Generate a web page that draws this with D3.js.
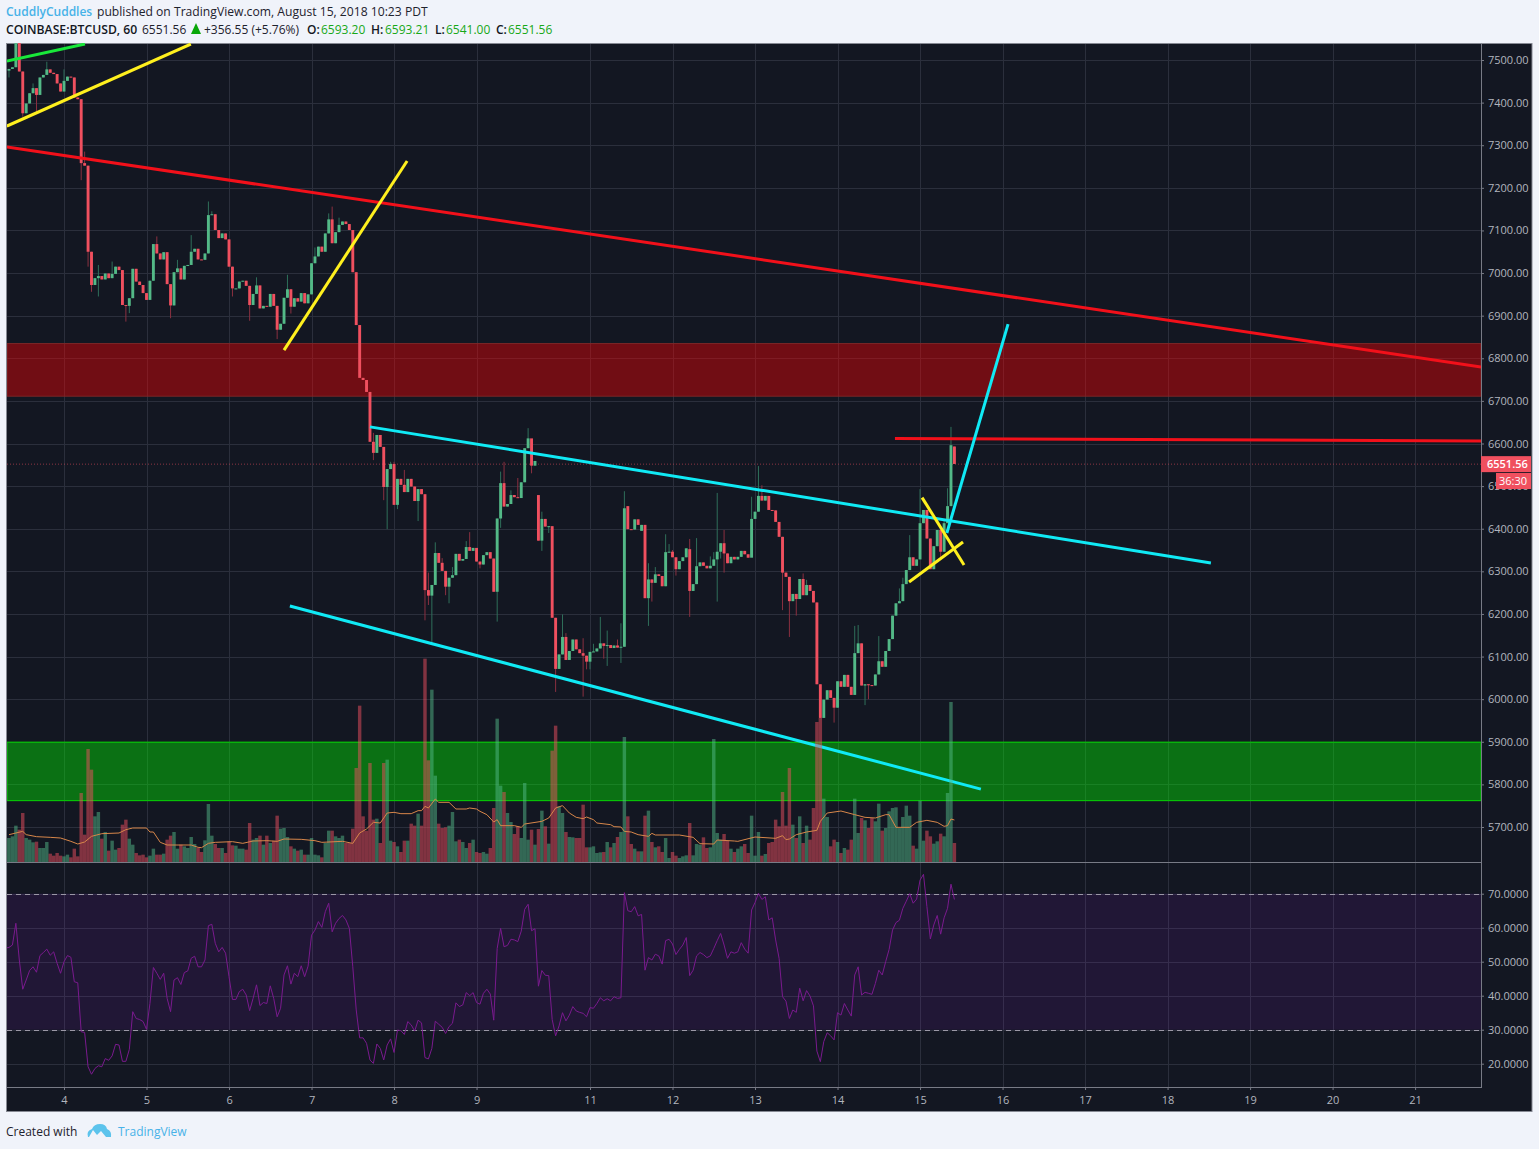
<!DOCTYPE html>
<html><head><meta charset="utf-8">
<script src="https://cdnjs.cloudflare.com/ajax/libs/d3/7.8.5/d3.min.js"></script>
<style>html,body{margin:0;padding:0;background:#f0f3fa}svg{display:block;font-family:"Open Sans",sans-serif}</style>
</head><body><div id="chart"></div>
<script>
// ---------- data ----------
const closes = [
7475,7479,7483,7560,7473,7375,7398,7422,7434,7418,
7459,7465,7478,7470,7467,7445,7426,7451,7461,7459,
7412,7408,7258,7252,7050,6972,6988,6993,6985,6999,
6988,6998,7015,7007,6925,6923,6941,7010,6980,6972,
6953,6937,6982,7068,7046,7032,7049,6974,6924,7002,
7011,6985,7017,7019,7050,7057,7032,7031,7046,7136,
7138,7101,7082,7093,7079,7015,6964,6964,6980,6982,
6970,6925,6951,6971,6917,6923,6921,6951,6923,6867,
6881,6942,6962,6921,6941,6933,6953,6929,6950,7023,
7039,7062,7050,7093,7126,7070,7096,7113,7121,7115,
7101,7002,6878,6754,6749,6721,6604,6578,6620,6592,
6498,6540,6552,6456,6517,6503,6486,6517,6499,6465,
6493,6481,6256,6243,6268,6343,6320,6301,6264,6285,
6291,6341,6325,6329,6357,6348,6355,6323,6316,6338,
6345,6330,6252,6424,6507,6452,6458,6479,6474,6472,
6509,6589,6612,6548,6559,6372,6423,6405,6406,6191,
6071,6105,6146,6092,6113,6140,6117,6108,6102,6088,
6111,6112,6119,6131,6125,6127,6120,6126,6121,6123,
6448,6399,6398,6422,6409,6409,6237,6281,6273,6293,
6289,6265,6345,6346,6333,6305,6324,6333,6354,6254,
6270,6312,6321,6313,6307,6313,6328,6346,6366,6342,
6319,6334,6328,6334,6348,6340,6332,6423,6440,6477,
6466,6477,6444,6443,6416,6381,6297,6287,6230,6247,
6235,6282,6244,6268,6254,6227,6035,5956,5999,6021,
6003,5980,6042,6029,6057,6029,6010,6108,6131,6032,
6035,6033,6032,6058,6089,6076,6113,6141,6196,6225,
6230,6270,6303,6333,6313,6328,6413,6444,6377,6305,
6359,6397,6346,6413,6453,6596,6552];
// opens equal the previous close except at these candles
const gapOpens = [[0,7470],[155,6479],[181,6453],[185,6395],[199,6352],[276,6593]];
const wickHighs = [[8,7445],[12,7496],[17,7478],[23,7285],[27,7019],[31,7027],[44,7086],[50,7031],[54,7089],[59,7168],[60,7145],[73,6990],[82,6996],[90,7060],[94,7140],[95,7156],[97,7130],[107,6625],[112,6557],[113,6557],[116,6538],[123,6297],[125,6368],[127,6331],[130,6310],[134,6371],[135,6392],[137,6345],[144,6534],[145,6557],[147,6490],[149,6519],[152,6636],[153,6590],[156,6440],[162,6199],[163,6155],[168,6143],[171,6130],[173,6193],[175,6161],[178,6140],[179,6178],[180,6488],[187,6319],[189,6310],[192,6387],[193,6364],[194,6350],[199,6376],[201,6378],[205,6335],[206,6345],[207,6484],[209,6397],[217,6475],[219,6547],[220,6502],[225,6405],[232,6295],[233,6280],[247,6172],[248,6174],[254,6148],[255,6090],[260,6260],[261,6285],[263,6385],[266,6493],[273,6420],[274,6495],[275,6639]];
const wickLows = [[1,7459],[5,7367],[9,7379],[22,7218],[24,7015],[25,6956],[27,6945],[35,6886],[36,6906],[48,6894],[66,6945],[71,6888],[79,6845],[83,6905],[107,6561],[110,6467],[111,6399],[114,6446],[120,6418],[122,6185],[123,6221],[124,6132],[128,6244],[129,6225],[138,6307],[143,6182],[144,6402],[153,6530],[156,6348],[158,6390],[160,6017],[168,6006],[169,6070],[170,6070],[174,6095],[175,6078],[179,6085],[187,6172],[188,6229],[195,6290],[199,6193],[207,6229],[208,6330],[209,6297],[217,6395],[226,6209],[228,6146],[230,6196],[241,5945],[250,5986],[251,6000],[262,6280],[272,6330]];
const volumes = [
72,72,77,109,97,147,72,67,59,61,
42,42,60,25,19,27,19,17,22,14,
40,17,207,82,339,277,137,150,70,90,
34,64,37,42,112,127,70,52,27,20,
22,14,19,40,22,22,25,67,79,90,
40,52,47,42,75,54,42,30,65,174,
79,54,42,42,27,62,50,49,40,40,
37,117,67,72,79,52,79,57,64,139,
100,102,75,47,40,34,37,22,22,72,
22,20,14,57,94,94,77,72,79,57,
57,100,282,469,137,94,297,127,130,57,
297,307,64,60,47,30,64,64,115,109,
145,109,610,305,517,259,115,102,104,109,
150,62,67,60,42,57,67,30,27,30,
25,42,162,430,229,210,147,120,84,107,
72,237,67,97,52,99,154,107,55,334,
409,167,147,90,75,74,72,72,172,44,
44,47,27,29,30,60,44,57,75,90,
375,137,54,40,32,32,139,154,60,44,
47,30,72,12,30,19,12,17,20,117,
20,54,52,74,42,44,369,87,67,84,
64,40,30,40,47,54,27,139,19,90,
19,24,57,60,127,107,210,109,282,112,
72,137,57,109,67,162,420,432,190,135,
47,67,60,27,42,37,67,190,87,132,
125,102,132,122,175,94,102,152,162,164,
102,135,169,139,49,40,184,64,94,77,
55,62,85,77,207,480,57];
const volMaIdx = [1,3,5,6,9,13,16,19,21,23,25,28,33,35,37,41,42,43,45,47,54,56,57,59,61,66,69,72,76,79,81,86,90,92,98,101,103,105,107,109,111,113,115,118,120,121,122,123,125,126,129,131,134,135,137,138,140,142,143,144,148,150,151,156,158,160,162,164,166,168,169,171,172,176,177,179,180,182,184,187,188,189,196,200,202,206,207,212,213,218,224,226,227,228,230,233,236,237,239,243,247,250,253,256,257,259,263,265,268,271,273,274,275,276];
const volMa = [82,87,92,82,76,74,72,62,54,60,77,85,87,97,102,102,90,90,59,51,51,44,43,56,59,61,56,63,64,62,69,68,64,59,62,56,87,99,119,117,147,149,145,145,154,154,167,162,189,179,179,159,159,162,159,152,142,120,127,109,109,104,114,122,132,162,169,147,134,130,135,127,117,112,106,105,92,90,82,77,86,81,81,74,55,54,66,63,62,75,71,79,67,69,82,90,95,122,147,153,142,134,132,142,142,104,104,119,125,119,107,109,129,126];
const rsi = [
54,54.2,54.9,61.3,50.5,41.9,44.6,47.4,48.5,46.9,
51.8,52.7,53.7,51.9,52.9,49.5,46.6,50,51.8,51.3,
44.1,43.8,29.4,29.2,19.1,16.9,18.6,19.4,19.1,21.5,
21,22.3,25.7,25.5,20.7,20.7,24.2,35.3,33.3,33,
32.4,30.1,37.7,48.3,46.6,44.8,46.6,39.2,35.3,44.6,
45.3,43.3,46.8,47.3,51,51.6,48.5,48.5,50.5,60.6,
61,55.4,52.9,54.2,52.5,45.6,38.9,38.9,41.2,41.9,
40.2,35.6,39.2,43.2,37.1,38,37.7,42.9,39.2,33.8,
36.3,46.1,48.8,43.4,46.6,45.6,48.8,45.6,48.7,57.8,
59.3,61.8,60.1,64.7,67.2,58.8,61.3,62.7,63.6,62.3,
59.8,48.5,35.8,27.6,27.6,26,21.1,20.1,25.8,24.5,
21.1,25.5,27.3,23.3,29.9,29.7,28.6,32.4,31.4,29.6,
32.8,32,21.8,21.4,24.5,32.5,31.6,30.7,28.9,30.9,
31.9,37.9,36.8,37.3,40.9,40,40.9,38,37.5,40.7,
41.9,40.5,32.8,53.9,59.8,54.4,54.8,56.6,56.4,55.9,
59,65.4,66.9,59.1,59.7,42.8,47.4,46,45.9,33,
28.2,31.1,35,32.6,34.3,36.8,35.5,35.1,34.8,33.8,
36.5,36.3,37.7,39.4,38.5,39.1,38.5,39.7,39.2,39.4,
70.3,65,64.7,66.2,63.5,63.9,47.5,51.2,50.5,52.2,
51.7,49.3,56.2,56.6,55.2,52.1,53.6,54.9,57.1,45.9,
47.5,51.7,52.7,52.1,51.2,51.7,53.9,56.2,58.3,54.9,
51,52.9,52.5,52.9,55.6,53.7,52.5,65.2,67.4,70.1,
68.3,69.1,62.3,62.9,56.4,51,39.7,38.4,33.3,35.8,
35.1,42.2,38.5,41.5,39.9,37,23.7,20.6,26.5,29.1,
28.2,27,35,34.3,37.7,35.8,34,46.1,48.5,40.2,
41,40.7,40.4,43.6,47.5,46.1,50,53.6,59.3,61.5,
62.2,65.7,67.8,70,67.2,68.4,74,75.7,66.2,56.7,
60.8,63.6,58.1,62.9,65.7,72.8,68.3];
const dayTickIdx = [17,41,65,89,113,137,170,194,218,242,266,290,314,338,362,386,410];
const dayTickLabels = ["4","5","6","7","8","9","11","12","13","14","15","16","17","18","19","20","21"];
const priceTicks = [5700,5800,5900,6000,6100,6200,6300,6400,6500,6600,6700,6800,6900,7000,7100,7200,7300,7400,7500];
const rsiTicks = [20,30,40,50,60,70];
// drawn trend lines: candle index and price at both ends
const trendStartIdx = [0.4,0.4,0.4,81,258.7,106,82.7,273.8,266.6,262.8];
const trendStartPrice = [7497.6,7345,7296,6819,6612,6639,6218.5,6390,6473,6275];
const trendEndIdx = [23.1,53.9,429.2,116.8,429.2,350.6,283.7,291.6,278.8,278.5];
const trendEndPrice = [7537.5,7537.5,6779.5,7263,6606,6319.5,5789,6880,6315,6369];
const trendColors = ["#19e83a","#fff01e","#f2101a","#fff01e","#f2101a","#10eaf5","#10eaf5","#10eaf5","#fff01e","#fff01e"];
const resistanceBand = [6711,6834.6];
const supportBand = [5762,5899];
const lastPrice = 6551.56;

// ---------- layout ----------
const W=1539,H=1149,L=7,R=1481,END=1532,T=43,PB=862,RB=1087,AB=1111;
const BG="#131722",UP="#53b987",DOWN="#f0505f",GRID="#2b2f3c";
const x=d3.scaleLinear().domain([17,410]).range([64,1415.1]);
const y=d3.scaleLinear().domain([5700,7500]).range([827,60]);
const yVol=d3.scaleLinear().domain([0,600]).range([PB,PB-200]);
const yRsi=d3.scaleLinear().domain([20,70]).range([1063.7,893.7]);
const pitch=x(1)-x(0);

const opens=closes.map((c,i)=>{const g=gapOpens.find(d=>d[0]===i);return g?g[1]:closes[i-1];});
const candles=closes.map((c,i)=>{
  const hi=wickHighs.find(d=>d[0]===i),lo=wickLows.find(d=>d[0]===i);
  return {i,o:opens[i],c,h:hi?hi[1]:Math.max(opens[i],c),l:lo?lo[1]:Math.min(opens[i],c),v:volumes[i],rsi:rsi[i]};
});

const svg=d3.select("#chart").append("svg").attr("width",W).attr("height",H);
const defs=svg.append("defs");
defs.append("clipPath").attr("id","main").append("rect").attr("x",L).attr("y",T).attr("width",R-L).attr("height",PB-T);
defs.append("clipPath").attr("id","low").append("rect").attr("x",L).attr("y",PB).attr("width",R-L).attr("height",RB-PB);

svg.append("rect").attr("width",W).attr("height",H).attr("fill","#f0f3fa");
svg.append("rect").attr("x",L-.5).attr("y",T+.5).attr("width",END-L+.5).attr("height",AB-T).attr("fill",BG).attr("stroke","#868993").attr("stroke-width",1);

// grid
const grid=svg.append("g").attr("stroke",GRID).attr("stroke-width",1).attr("shape-rendering","crispEdges");
grid.selectAll("line.v").data(dayTickIdx).join("line").attr("x1",d=>Math.round(x(d))+.5).attr("x2",d=>Math.round(x(d))+.5).attr("y1",T+1).attr("y2",RB);
grid.selectAll("line.p").data(priceTicks).join("line").attr("x1",L).attr("x2",R).attr("y1",d=>Math.round(y(d))+.5).attr("y2",d=>Math.round(y(d))+.5);
grid.selectAll("line.r").data(rsiTicks).join("line").attr("x1",L).attr("x2",R).attr("y1",d=>Math.round(yRsi(d))+.5).attr("y2",d=>Math.round(yRsi(d))+.5);

// price pane: zones sit under the candles, the volume study sits on top
const main=svg.append("g").attr("clip-path","url(#main)");
main.append("rect").attr("x",L).attr("width",R-L).attr("y",y(resistanceBand[1])).attr("height",y(resistanceBand[0])-y(resistanceBand[1]))
  .attr("fill","rgba(255,0,0,.4)").attr("stroke","rgba(130,40,40,.9)");
main.append("rect").attr("x",L).attr("width",R-L).attr("y",y(supportBand[1])).attr("height",y(supportBand[0])-y(supportBand[1]))
  .attr("fill","rgba(0,250,0,.4)").attr("stroke","#06c206").attr("stroke-width",1.2);
main.append("line").attr("x1",L).attr("x2",R).attr("y1",y(lastPrice)).attr("y2",y(lastPrice))
  .attr("stroke","#f0505f").attr("stroke-opacity",.55).attr("stroke-dasharray","1 2");
main.append("g").selectAll("line").data(candles).join("line")
  .attr("x1",d=>x(d.i)).attr("x2",d=>x(d.i)).attr("y1",d=>y(d.h)).attr("y2",d=>y(d.l))
  .attr("stroke",d=>d.c>=d.o?"#2f6f5a":"#8a3040").attr("stroke-width",1);
main.append("g").selectAll("rect").data(candles).join("rect")
  .attr("x",d=>x(d.i)-1.45).attr("width",2.9)
  .attr("y",d=>y(Math.max(d.o,d.c))).attr("height",d=>Math.max(1,Math.abs(y(d.o)-y(d.c))))
  .attr("fill",d=>d.c>=d.o?UP:DOWN);
main.append("g").selectAll("line").data(trendColors).join("line")
  .attr("x1",(d,k)=>x(trendStartIdx[k])).attr("y1",(d,k)=>y(trendStartPrice[k]))
  .attr("x2",(d,k)=>x(trendEndIdx[k])).attr("y2",(d,k)=>y(trendEndPrice[k]))
  .attr("stroke",d=>d).attr("stroke-width",3).attr("stroke-linecap","butt");
main.append("g").selectAll("rect").data(candles).join("rect")
  .attr("x",d=>x(d.i)-pitch/2).attr("width",pitch).attr("y",d=>yVol(d.v)).attr("height",d=>PB-yVol(d.v))
  .attr("fill",d=>d.c>=d.o?UP:DOWN).attr("fill-opacity",.5);
main.append("path").attr("fill","none").attr("stroke","#d8874a").attr("stroke-width",1)
  .attr("d",d3.line().x(d=>x(d)).y((d,k)=>yVol(volMa[k]))(volMaIdx));

// RSI pane
const low=svg.append("g").attr("clip-path","url(#low)");
low.append("rect").attr("x",L).attr("width",R-L).attr("y",yRsi(70)).attr("height",yRsi(30)-yRsi(70)).attr("fill","rgba(160,30,240,.1)");
low.selectAll("line.lim").data([70,30]).join("line").attr("x1",L).attr("x2",R).attr("y1",d=>Math.round(yRsi(d))+.5).attr("y2",d=>Math.round(yRsi(d))+.5)
  .attr("stroke","#9b98a6").attr("stroke-dasharray","5 4");
low.append("path").attr("fill","none").attr("stroke","#7a1a8e").attr("stroke-width",1)
  .attr("d",d3.line().x(d=>x(d.i)).y(d=>yRsi(d.rsi))(candles));

// pane separators
const sep=svg.append("g").attr("stroke","#787b86").attr("shape-rendering","crispEdges");
sep.append("line").attr("x1",L).attr("x2",R).attr("y1",PB+.5).attr("y2",PB+.5);
sep.append("line").attr("x1",L).attr("x2",R+1).attr("y1",RB+.5).attr("y2",RB+.5);
sep.append("line").attr("x1",R+.5).attr("x2",R+.5).attr("y1",T+1).attr("y2",RB+1);

// axes
function styleAxis(g){g.select(".domain").remove();g.selectAll("line").attr("stroke","#787b86");
  g.selectAll("text").attr("fill","#b2b5be").attr("font-size",11).attr("font-family",'"Open Sans",sans-serif');}
svg.append("g").attr("transform",`translate(${R},0)`).call(d3.axisRight(y).tickValues(priceTicks).tickSize(3).tickPadding(4).tickFormat(d3.format(".2f"))).call(styleAxis);
svg.append("g").attr("transform",`translate(${R},0)`).call(d3.axisRight(yRsi).tickValues(rsiTicks).tickSize(3).tickPadding(4).tickFormat(d3.format(".4f"))).call(styleAxis);
svg.append("g").attr("transform",`translate(0,${RB})`).call(d3.axisBottom(x).tickValues(dayTickIdx).tickSize(3).tickPadding(6).tickFormat((d,k)=>dayTickLabels[k])).call(styleAxis);

// last price tags
svg.append("rect").attr("x",R).attr("y",y(lastPrice)-8).attr("width",50).attr("height",16).attr("fill",DOWN);
svg.append("text").attr("x",1487).attr("y",y(lastPrice)+4).attr("fill","#fff").attr("font-size",11).attr("font-weight",600).text(d3.format(".2f")(lastPrice));
svg.append("rect").attr("x",1496).attr("y",473).attr("width",35).attr("height",16).attr("fill",DOWN);
svg.append("text").attr("x",1499).attr("y",485).attr("fill","#fff").attr("font-size",11).text("36:30");

// header
function put(t,xp,yp,fill,weight,size){return svg.append("text").attr("x",xp).attr("y",yp).attr("fill",fill).attr("font-size",size||12).attr("font-weight",weight||400).text(t);}
put("CuddlyCuddles",6,16,"#47b2e8",600);
put("published on TradingView.com, August 15, 2018 10:23 PDT",97,16,"#1e222d",400,12.15);
put("COINBASE:BTCUSD, 60",6,34,"#131722",600,12.2);
put("6551.56",142,34,"#1e222d");
svg.append("path").attr("d","M191 34 L196 23 L201 34 Z").attr("fill","#09a709");
put("+356.55 (+5.76%)",204,34,"#1e222d");
[["O:",307,"6593.20",321],["H:",371,"6593.21",385],["L:",435,"6541.00",446],["C:",496,"6551.56",508]].forEach(d=>{
  put(d[0],d[1],34,"#131722",600);put(d[2],d[3],34,"#18a818");
});

// footer
put("Created with",6,1136,"#1e222d");
svg.append("path").attr("fill","#5cc3ec").attr("d","M88 1137 Q86 1131 92 1129 Q94 1124 100 1124 Q106 1124 107 1129 Q112 1131 111 1137 L106 1137 L101 1131 L97 1135 L93 1130 L89 1137 Z");
put("TradingView",118,1136,"#47b2e8");
</script></body></html>
